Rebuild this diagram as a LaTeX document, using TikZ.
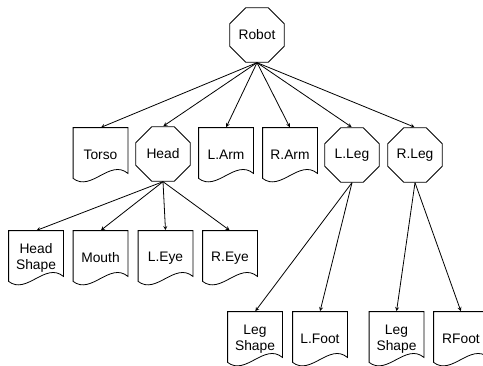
\documentclass[tikz,border=0pt]{standalone}
\usepackage{fontspec}
\setmainfont{Liberation Sans}
\usetikzlibrary{shapes.geometric}

\begin{document}
\begin{tikzpicture}[x=1pt, y=-1pt, line width=0.8pt,
  oct/.style={draw, regular polygon, regular polygon sides=8, minimum size=59pt, inner sep=0pt},
  doc/.style={minimum width=54pt, minimum height=54pt, inner sep=0pt, align=center},
  arr/.style={->, >=stealth, shorten >=0.5pt}]

\useasboundingbox (0,0) rectangle (483,365);
\tikzset{every node/.style={font=\fontsize{13.8}{16}\selectfont}}

% nodes
{
\node[oct] (robot) at (257,35) {Robot};

\node[doc] (torso) at (100.5,155) {Torso};
\node[oct] (head) at (163,154) {Head};
\node[doc] (larm) at (226,155) {L.Arm};
\node[doc] (rarm) at (290,155) {R.Arm};
\node[oct] (lleg) at (352,155) {L.Leg};
\node[oct] (rleg) at (415,155) {R.Leg};

\node[doc] (headshape) at (36,258) {Head\\Shape};
\node[doc] (mouth) at (100.5,258) {Mouth};
\node[doc] (leye) at (165.5,258) {L.Eye};
\node[doc] (reye) at (230,258) {R.Eye};

\node[doc] (llegshape) at (255,339) {Leg\\Shape};
\node[doc] (lfoot) at (320,339) {L.Foot};
\node[doc] (rlegshape) at (396.5,339) {Leg\\Shape};
\node[doc] (rfoot) at (461,339) {RFoot};
}

% document outlines
\foreach \n in {torso,larm,rarm,headshape,mouth,leye,reye,llegshape,lfoot,rlegshape,rfoot}
  \draw (\n.north west) -- (\n.north east) -- ([yshift=9pt]\n.south east)
    .. controls ([xshift=-18pt,yshift=24pt]\n.south east) and ([xshift=18pt,yshift=-10pt]\n.south west)
    .. ([yshift=4pt]\n.south west) -- cycle;

% arrows
\foreach \c in {torso,head,larm,rarm,lleg,rleg}
  \draw[arr] (robot.south) -- (\c.north);
\foreach \c in {headshape,mouth,leye,reye}
  \draw[arr] (head.south) -- (\c.north);
\foreach \c in {llegshape,lfoot}
  \draw[arr] (lleg.south) -- (\c.north);
\foreach \c in {rlegshape,rfoot}
  \draw[arr] (rleg.south) -- (\c.north);

\end{tikzpicture}
\end{document}
